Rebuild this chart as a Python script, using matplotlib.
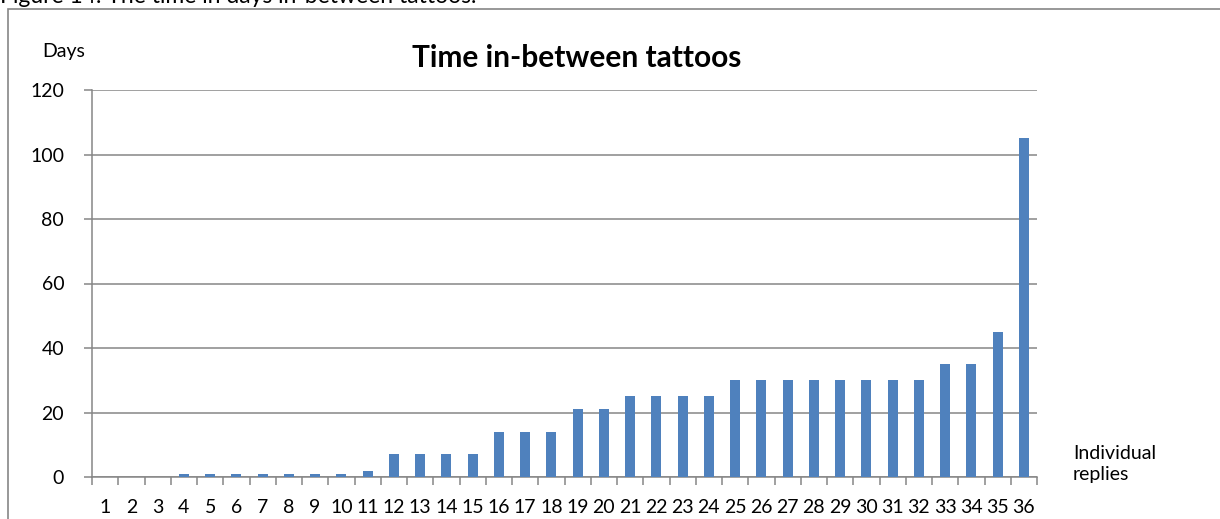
import matplotlib.pyplot as plt
from matplotlib.patches import Rectangle

plt.rcParams['font.family'] = ['Lato', 'DejaVu Sans']

# data
replies = [str(i) for i in range(1, 37)]
days = [0, 0, 0, 1, 1, 1, 1, 1, 1, 1, 2, 7, 7, 7, 7, 14, 14, 14, 21, 21,
        25, 25, 25, 25, 30, 30, 30, 30, 30, 30, 30, 30, 35, 35, 45, 105]
y_ticks = [0, 20, 40, 60, 80, 100, 120]

W, H = 1220, 519
fig = plt.figure(figsize=(W / 100, H / 100), dpi=100)

# outer frame of the chart object (runs off the right and bottom)
fig.patches.append(Rectangle((8 / W, -0.1), 1.2, 1 - 9 / H + 0.1,
                             transform=fig.transFigure, fill=False,
                             edgecolor='#868686', lw=1.2))

fig.text(0.0, 1 - 3 / H, 'Figure 14. The time in days in-between tattoos.',
         fontsize=16.5, va='baseline', ha='left')

ax = fig.add_axes([92 / W, 1 - 477 / H, (1037 - 92) / W, (477 - 90) / H])

x = list(range(len(days)))
ax.bar(x, days, width=0.38, color='#4F81BD', zorder=3)

ax.set_xlim(-0.5, len(days) - 0.5)
ax.set_ylim(0, 120)
ax.set_yticks(y_ticks)
ax.yaxis.grid(True, color='#868686', lw=1.1)
ax.set_axisbelow(True)

ax.set_xticks(x)
ax.set_xticklabels(replies)
ax.set_xticks([i - 0.5 for i in range(len(days) + 1)], minor=True)
ax.tick_params(axis='x', which='major', length=0, pad=16, labelsize=14)
ax.tick_params(axis='x', which='minor', length=6, color='#868686', width=1.1)
ax.tick_params(axis='y', length=6, color='#868686', width=1.1, pad=14,
               labelsize=14)

for s in ['top', 'right']:
    ax.spines[s].set_visible(False)
for s in ['left', 'bottom']:
    ax.spines[s].set_color('#868686')
    ax.spines[s].set_linewidth(1.1)

fig.text(577 / W, 1 - 58 / H, 'Time in-between tattoos', fontsize=21.5,
         fontweight='bold', ha='center', va='center')
fig.text(42 / W, 1 - 52 / H, 'Days', fontsize=14, ha='left', va='center')
fig.text(1073 / W, 1 - 464 / H, 'Individual\nreplies', fontsize=14,
         ha='left', va='center', linespacing=1.3)

fig.savefig('out.png', dpi=100)
